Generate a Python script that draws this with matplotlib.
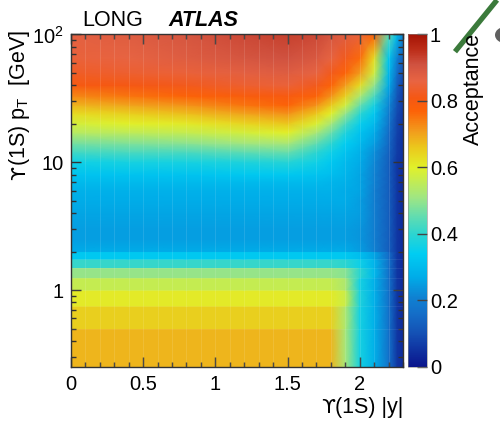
import numpy as np
import matplotlib
matplotlib.use("Agg")
import matplotlib.pyplot as plt
from matplotlib.colors import LinearSegmentedColormap
from matplotlib.ticker import MultipleLocator, LogLocator, FixedLocator, FuncFormatter, NullFormatter
from matplotlib.lines import Line2D
from matplotlib.patches import Ellipse

plt.rcParams['font.family'] = ['Liberation Sans', 'DejaVu Sans']
plt.rcParams['mathtext.fontset'] = 'custom'
plt.rcParams['mathtext.rm'] = 'Liberation Sans'
plt.rcParams['mathtext.it'] = 'Liberation Sans:italic'
plt.rcParams['mathtext.bf'] = 'Liberation Sans:bold'

# |y| sampling nodes (columns of the acceptance tables)
rap_nodes = [0.0, 0.4, 0.8, 1.2, 1.5, 1.7, 1.8, 1.9, 2.0, 2.1, 2.2, 2.26, 2.3]

# low-pT bins [GeV]: acceptance is constant in pT inside each bin
low_pt_edges = [0.25, 0.5, 0.75, 1.0, 1.25, 1.5, 1.75, 2.0]
low_pt_acc = [
    [0.68, 0.68, 0.68, 0.68, 0.68, 0.68, 0.68, 0.52, 0.37, 0.28, 0.17, 0.06, 0.04],
    [0.65, 0.65, 0.65, 0.65, 0.65, 0.65, 0.65, 0.53, 0.37, 0.28, 0.17, 0.06, 0.04],
    [0.61, 0.61, 0.61, 0.61, 0.61, 0.61, 0.61, 0.57, 0.38, 0.28, 0.17, 0.06, 0.04],
    [0.56, 0.56, 0.56, 0.56, 0.56, 0.56, 0.56, 0.53, 0.37, 0.28, 0.17, 0.06, 0.04],
    [0.50, 0.50, 0.50, 0.50, 0.50, 0.50, 0.50, 0.49, 0.40, 0.30, 0.17, 0.06, 0.04],
    [0.41, 0.41, 0.41, 0.41, 0.41, 0.41, 0.41, 0.40, 0.36, 0.29, 0.17, 0.06, 0.04],
    [0.33, 0.33, 0.33, 0.33, 0.33, 0.33, 0.33, 0.33, 0.31, 0.26, 0.16, 0.06, 0.04],
]

# higher pT [GeV]: acceptance sampled at these pT values
high_pt_nodes = [2.0, 2.5, 3, 4, 5, 6, 7, 8, 10, 12, 14, 17, 20, 24, 28, 33, 40, 50, 65, 100]
high_pt_acc = [
    [0.27, 0.27, 0.27, 0.27, 0.27, 0.27, 0.27, 0.27, 0.25, 0.21, 0.13, 0.06, 0.04],
    [0.25, 0.25, 0.25, 0.25, 0.25, 0.25, 0.25, 0.25, 0.24, 0.20, 0.13, 0.06, 0.04],
    [0.25, 0.25, 0.25, 0.25, 0.25, 0.25, 0.25, 0.25, 0.24, 0.20, 0.13, 0.06, 0.04],
    [0.26, 0.26, 0.26, 0.26, 0.26, 0.26, 0.26, 0.26, 0.25, 0.20, 0.13, 0.06, 0.04],
    [0.27, 0.27, 0.27, 0.27, 0.27, 0.27, 0.27, 0.27, 0.25, 0.20, 0.13, 0.06, 0.04],
    [0.28, 0.28, 0.28, 0.28, 0.28, 0.28, 0.28, 0.27, 0.26, 0.20, 0.13, 0.06, 0.04],
    [0.30, 0.30, 0.30, 0.30, 0.30, 0.30, 0.29, 0.28, 0.26, 0.21, 0.13, 0.06, 0.04],
    [0.32, 0.32, 0.32, 0.33, 0.33, 0.32, 0.31, 0.29, 0.26, 0.21, 0.13, 0.06, 0.04],
    [0.36, 0.37, 0.37, 0.38, 0.39, 0.36, 0.33, 0.30, 0.27, 0.22, 0.13, 0.06, 0.05],
    [0.42, 0.43, 0.43, 0.45, 0.46, 0.40, 0.36, 0.32, 0.28, 0.23, 0.14, 0.07, 0.05],
    [0.47, 0.48, 0.49, 0.51, 0.52, 0.45, 0.40, 0.34, 0.30, 0.25, 0.15, 0.07, 0.05],
    [0.54, 0.55, 0.56, 0.58, 0.60, 0.52, 0.46, 0.38, 0.32, 0.27, 0.16, 0.08, 0.05],
    [0.58, 0.60, 0.61, 0.64, 0.66, 0.59, 0.52, 0.43, 0.35, 0.30, 0.18, 0.08, 0.06],
    [0.63, 0.65, 0.67, 0.70, 0.72, 0.66, 0.60, 0.50, 0.40, 0.33, 0.20, 0.09, 0.06],
    [0.68, 0.70, 0.72, 0.75, 0.77, 0.72, 0.66, 0.58, 0.46, 0.37, 0.22, 0.10, 0.07],
    [0.73, 0.75, 0.77, 0.79, 0.80, 0.77, 0.72, 0.65, 0.53, 0.43, 0.24, 0.11, 0.07],
    [0.80, 0.81, 0.82, 0.84, 0.85, 0.82, 0.77, 0.71, 0.63, 0.50, 0.27, 0.13, 0.08],
    [0.83, 0.84, 0.85, 0.87, 0.88, 0.86, 0.82, 0.77, 0.71, 0.58, 0.30, 0.16, 0.10],
    [0.85, 0.86, 0.88, 0.90, 0.91, 0.89, 0.86, 0.82, 0.76, 0.63, 0.33, 0.20, 0.13],
    [0.87, 0.88, 0.90, 0.92, 0.93, 0.92, 0.90, 0.88, 0.85, 0.77, 0.45, 0.30, 0.20],
]

acc_ticks = [0, 0.2, 0.4, 0.6, 0.8, 1]
pt_major = [1, 10, 100]
pt_labels = {1: '1', 10: '10', 100: r'$10^{2}$'}

# rainbow-like palette
palette = [
    (0.00, (10, 20, 140)), (0.05, (15, 50, 160)), (0.10, (20, 80, 180)),
    (0.16, (20, 110, 200)), (0.21, (15, 130, 210)), (0.27, (0, 172, 232)),
    (0.34, (0, 205, 242)), (0.40, (45, 213, 208)), (0.45, (95, 220, 178)),
    (0.51, (160, 230, 130)), (0.60, (225, 241, 42)), (0.66, (235, 200, 28)),
    (0.71, (242, 155, 28)), (0.77, (252, 98, 8)), (0.81, (245, 88, 20)),
    (0.86, (232, 100, 66)), (0.91, (208, 82, 64)), (0.955, (188, 45, 25)),
    (1.00, (165, 20, 5)),
]
cmap = LinearSegmentedColormap.from_list(
    'acc', [(v, tuple(c / 255 for c in rgb)) for v, rgb in palette], N=512)

fig = plt.figure(figsize=(5.0, 4.25), dpi=100)
ax = fig.add_axes([0.142, 0.1365, 0.664, 0.7826])
ax.set_yscale('log')

X = np.array(rap_nodes)
for i, row in enumerate(low_pt_acc):
    Y = np.array([low_pt_edges[i], low_pt_edges[i + 1]])
    XX, YY = np.meshgrid(X, Y)
    ax.pcolormesh(XX, YY, np.vstack([row, row]), shading='gouraud', cmap=cmap,
                  vmin=0, vmax=1, rasterized=True)
XX, YY = np.meshgrid(X, np.array(high_pt_nodes))
mesh = ax.pcolormesh(XX, YY, np.array(high_pt_acc), shading='gouraud', cmap=cmap,
                     vmin=0, vmax=1, rasterized=True)

# faint bin boundaries
for xv in np.arange(0.1, 2.3, 0.1):
    ax.axvline(xv, color='white', lw=0.6, alpha=0.13, zorder=2)
for yv in low_pt_edges[1:-1]:
    ax.axhline(yv, color='white', lw=0.5, alpha=0.10, zorder=2)

ax.set_xlim(0, 2.3)
ax.set_ylim(0.25, 100)

tick_col = '#333333'
ax.xaxis.set_major_locator(MultipleLocator(0.5))
ax.xaxis.set_minor_locator(MultipleLocator(0.1))
ax.xaxis.set_major_formatter(FuncFormatter(lambda v, p: f'{v:g}'))
ax.yaxis.set_major_locator(FixedLocator(pt_major))
ax.yaxis.set_minor_locator(LogLocator(base=10, subs=np.arange(2, 10)))
ax.yaxis.set_major_formatter(FuncFormatter(lambda v, p: pt_labels.get(int(round(v)), '')))
ax.yaxis.set_minor_formatter(NullFormatter())
ax.tick_params(which='both', direction='in', top=True, right=True, color=tick_col,
               width=1.0, labelsize=14.5)
ax.tick_params(which='major', length=7.5)
ax.tick_params(which='minor', length=3.8)
ax.tick_params(axis='x', pad=6)
ax.tick_params(axis='y', pad=5)
for sp in ax.spines.values():
    sp.set_color('#333333')
    sp.set_linewidth(1.0)

cax = fig.add_axes([0.816, 0.1365, 0.038, 0.7826])
cb = fig.colorbar(mesh, cax=cax)
cb.set_ticks(acc_ticks)
cb.set_ticklabels([f'{t:g}' for t in acc_ticks])
cb.ax.tick_params(direction='in', length=7.5, width=1.0, color='#444444',
                  labelsize=14.5, pad=2)
cb.ax.minorticks_off()
cb.outline.set_linewidth(0.4)
cb.outline.set_edgecolor('#888888')

fig.text(0.947, 1 - 33 / 425, 'Acceptance', rotation=90, ha='center', va='top',
         fontsize=15.5)
fig.text(0.164, 1 - 26 / 425, 'LONG', ha='left', va='baseline', fontsize=15.5)
fig.text(0.336, 1 - 26 / 425, 'ATLAS', ha='left', va='baseline', fontsize=15.5,
         fontweight='bold', fontstyle='italic')

# axis titles: the hooked upsilon comes from DejaVu Sans, the rest from Liberation Sans
renderer = fig.canvas.get_renderer()
ups_font = dict(family='DejaVu Sans', fontsize=14.5)

xrest = fig.text(0.806, 0.028, '(1S) |y|', ha='right', va='baseline', fontsize=15.5)
bb = xrest.get_window_extent(renderer)
fig.text(bb.x0 / fig.bbox.width, 0.028, 'ϒ', ha='right', va='baseline', **ups_font)

yrest = fig.text(0.050, 1 - 30 / 425, r'(1S) p$_{\mathrm{T}}$  [GeV]', rotation=90,
                 rotation_mode='anchor', ha='right', va='baseline', fontsize=15.5)
bb = yrest.get_window_extent(renderer)
fig.text(0.050, bb.y0 / fig.bbox.height, 'ϒ', rotation=90, rotation_mode='anchor',
         ha='right', va='baseline', **ups_font)

# neighbouring panel edge
fig.add_artist(Line2D([455 / 500, 497 / 500], [1 - 51.7 / 425, 1.0],
                      transform=fig.transFigure, color='#3b7a3b', lw=3.8,
                      solid_capstyle='butt'))
fig.add_artist(Ellipse((505 / 500, 1 - 35 / 425), 20 / 500, 16 / 425,
                       transform=fig.transFigure, facecolor='#444444',
                       edgecolor='none', alpha=0.85))

fig.savefig('out.png', dpi=100)
